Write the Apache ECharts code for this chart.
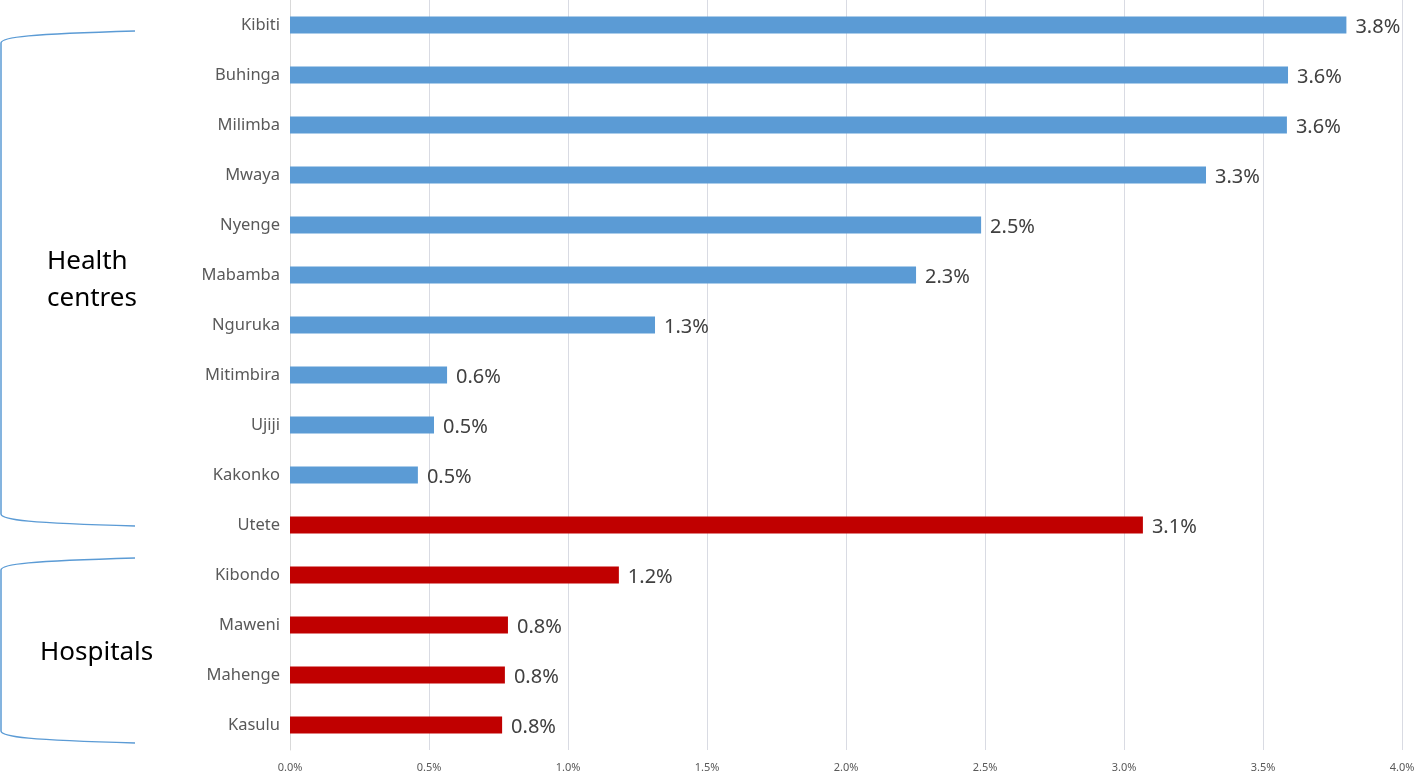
<!DOCTYPE html>
<html><head><meta charset="utf-8">
<script src="https://cdn.jsdelivr.net/npm/echarts@6/dist/echarts.min.js"></script>
<style>html,body{margin:0;padding:0;background:#fff}#c{width:1418px;height:775px}</style>
</head><body><div id="c"></div>
<script>
const categories = ['Kibiti','Buhinga','Milimba','Mwaya','Nyenge','Mabamba','Nguruka','Mitimbira','Ujiji','Kakonko','Utete','Kibondo','Maweni','Mahenge','Kasulu'];
const values = [3.80,3.59,3.586,3.295,2.486,2.252,1.313,0.565,0.518,0.46,3.068,1.183,0.784,0.773,0.763];
const groups = ['hc','hc','hc','hc','hc','hc','hc','hc','hc','hc','hosp','hosp','hosp','hosp','hosp'];
const groupColors = {hc:'#5b9bd5', hosp:'#c00000'};
const xTicks = {min:0, max:4, interval:0.5};

const chart = echarts.init(document.getElementById('c'));
const bracketColor = '#5b9bd5';
function bracket(y1, y2){
  return [
    {type:'bezierCurve', shape:{x1:135,y1:y1,cpx1:30,cpy1:y1+3,cpx2:1,cpy2:y1+6,x2:1,y2:y1+12}, style:{stroke:bracketColor,lineWidth:1.5,fill:null}},
    {type:'line', shape:{x1:1,y1:y1+12,x2:1,y2:y2-12}, style:{stroke:bracketColor,lineWidth:1.5}},
    {type:'bezierCurve', shape:{x1:1,y1:y2-12,cpx1:1,cpy1:y2-6,cpx2:30,cpy2:y2-3,x2:135,y2:y2}, style:{stroke:bracketColor,lineWidth:1.5,fill:null}}
  ];
}
chart.setOption({
  animation:false,
  grid:{left:290,right:16,top:0,bottom:25,containLabel:false},
  xAxis:{type:'value',min:xTicks.min,max:xTicks.max,interval:xTicks.interval,
    axisLabel:{formatter:v=>v.toFixed(1)+'%',color:'#595959',fontSize:11,fontFamily:'Noto Sans',margin:12},
    splitLine:{show:true,lineStyle:{color:'#d9dbe3',width:1}},
    axisLine:{show:false},axisTick:{show:false}},
  yAxis:{type:'category',data:categories,inverse:true,
    axisLabel:{color:'#595959',fontSize:16.5,fontFamily:'Noto Sans',margin:10},
    axisLine:{show:true,lineStyle:{color:'#d9d9d9'}},axisTick:{show:false}},
  series:[{type:'bar',barWidth:17,
    data:values.map((v,i)=>({value:v,itemStyle:{color:groupColors[groups[i]]}})),
    label:{show:true,position:'right',distance:9,offset:[0,2],formatter:p=>p.value.toFixed(1)+'%',color:'#404040',fontSize:20,fontFamily:'Noto Sans'}
  }],
  graphic:[
    ...bracket(31,526),
    ...bracket(558,743),
    {type:'text',left:47,top:243,style:{text:'Health\ncentres',font:'26px "Noto Sans"',fill:'#000',lineHeight:37}},
    {type:'text',left:40,top:640,style:{text:'Hospitals',font:'26px "Noto Sans"',fill:'#000'}}
  ]
});
</script></body></html>
